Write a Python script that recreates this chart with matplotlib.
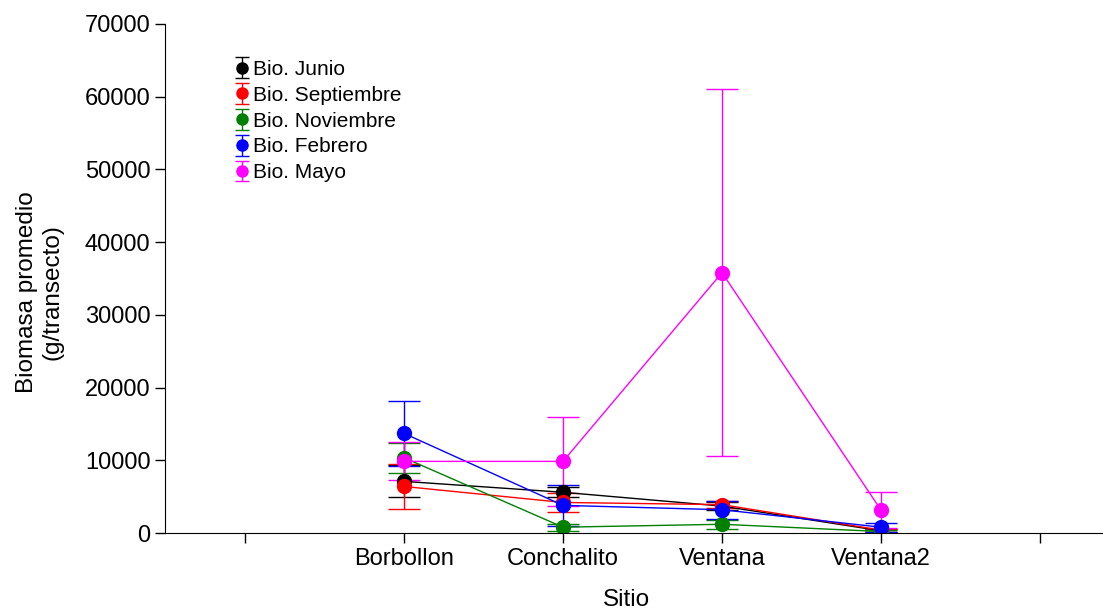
import numpy as np
import matplotlib
matplotlib.use("Agg")
import matplotlib.pyplot as plt

plt.rcParams["font.family"] = ["Liberation Sans", "DejaVu Sans"]

sitios = ["Borbollon", "Conchalito", "Ventana", "Ventana2"]
posiciones = [1, 2, 3, 4]

# media y error de biomasa por muestreo
junio = [7100, 5600, 3700, 300]
junio_err = [2200, 700, 500, 200]
septiembre = [6400, 4200, 3900, 400]
septiembre_err = [3050, 1300, 500, 200]
noviembre = [10350, 800, 1200, 200]
noviembre_err = [2070, 500, 650, 150]
febrero = [13700, 3800, 3200, 800]
febrero_err = [4450, 2850, 1250, 600]
mayo = [9850, 9850, 35800, 3150]
mayo_err = [2600, 6100, 25200, 2500]

series = [
    ("Bio. Junio", junio, junio_err, "black"),
    ("Bio. Septiembre", septiembre, septiembre_err, "red"),
    ("Bio. Noviembre", noviembre, noviembre_err, "green"),
    ("Bio. Febrero", febrero, febrero_err, "blue"),
    ("Bio. Mayo", mayo, mayo_err, "magenta"),
]

fig = plt.figure(figsize=(11.03, 6.13), dpi=100)
ax = fig.add_axes([165 / 1103, 80 / 613, 938 / 1103, 509 / 613])

handles = []
for nombre, vals, errs, color in series:
    ax.errorbar(posiciones, vals, yerr=errs, color=color, marker="o",
                markersize=10, linewidth=1, elinewidth=1, capsize=11.5,
                capthick=1)
    # entrada de leyenda con marcador y barras mas pequeños (sin datos visibles)
    h = ax.errorbar([np.nan], [np.nan], yerr=[np.nan], color=color,
                    marker="o", markersize=8, linewidth=0, elinewidth=1,
                    capsize=5, capthick=1, label=nombre)
    handles.append(h)

ax.set_xlim(-0.503, 5.396)
ax.set_ylim(0, 70000)
ax.set_xticks([0, 1, 2, 3, 4, 5])
ax.set_xticklabels([""] + sitios + [""])
ax.set_yticks(np.arange(0, 70001, 10000))
ax.tick_params(axis="both", labelsize=17, length=7, width=1, direction="out")
ax.spines["top"].set_visible(False)
ax.spines["right"].set_visible(False)

ax.set_xlabel("Sitio", fontsize=17.5)
ax.set_ylabel("Biomasa promedio\n(g/transecto)", fontsize=17.5)
ax.xaxis.set_label_coords(0.4925, -0.11)
ax.yaxis.set_label_coords(-0.108, 0.473)

ax.legend(handles=handles, loc="upper left", bbox_to_anchor=(0.064, 0.95),
          frameon=False, fontsize=15, handlelength=0.6, handletextpad=0.25,
          labelspacing=0.33, borderpad=0)

fig.savefig("out.png", dpi=100)
